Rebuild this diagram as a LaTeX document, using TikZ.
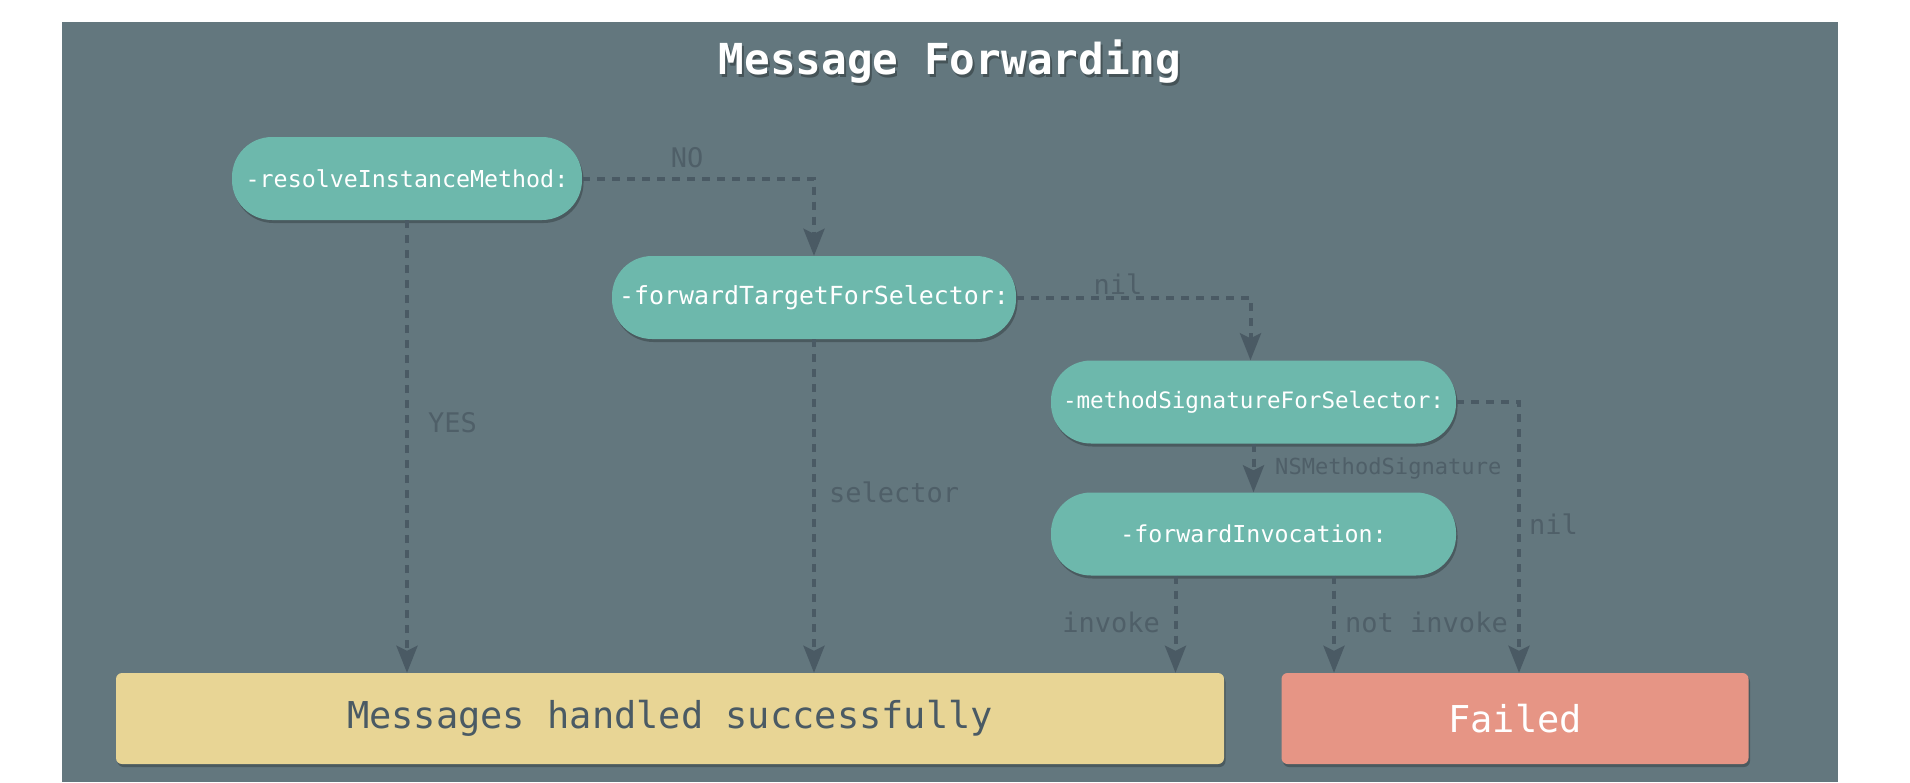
\documentclass[tikz,border=0pt]{standalone}
\usepackage{fontspec}
\setmonofont{DejaVu Sans Mono}
\usetikzlibrary{arrows.meta,shadows}
\definecolor{bg}{HTML}{63777E}
\definecolor{teal}{HTML}{6DB8AC}
\definecolor{okc}{HTML}{E8D595}
\definecolor{failc}{HTML}{E69585}
\definecolor{arrowc}{HTML}{4A5A64}
\definecolor{labc}{HTML}{4F5F68}
\begin{document}
\begin{tikzpicture}[x=1pt,y=-1pt,
  pill/.style={fill=teal, rounded corners=40pt, minimum height=83pt, inner sep=0pt, text=white,
    drop shadow={shadow xshift=1.5pt, shadow yshift=-3pt, opacity=0.35, fill=black!70!bg}},
  endbox/.style={rounded corners=6pt, minimum height=91pt, inner sep=0pt,
    drop shadow={shadow xshift=1.5pt, shadow yshift=-3pt, opacity=0.35, fill=black!70!bg},
    font=\ttfamily\fontsize{37}{44}\selectfont},
  conn/.style={draw=arrowc, line width=4pt, dash pattern=on 8pt off 7pt,
    -{Stealth[length=27pt,width=21pt,inset=5pt]}},
  lab/.style={text=labc, inner sep=0pt, font=\ttfamily\fontsize{27}{32}\selectfont}]
\useasboundingbox (0,0) rectangle (1910,782);
\fill[white] (0,0) rectangle (1910,782);
\fill[bg] (62,22) rectangle (1838,782);
% title
\node[text=black, opacity=0.3, font=\ttfamily\bfseries\fontsize{42.7}{50}\selectfont] (titleshadow) at (952,64.5) {Message Forwarding};
\node[text=white, font=\ttfamily\bfseries\fontsize{42.7}{50}\selectfont] (title) at (950,62) {Message Forwarding};
% nodes
\node[pill, minimum width=350pt, font=\ttfamily\fontsize{23.3}{28}\selectfont] (r) at (407,178.5) {-resolveInstanceMethod:};
\node[pill, minimum width=404pt, font=\ttfamily\fontsize{24.9}{30}\selectfont] (t) at (814,297.5) {-forwardTargetForSelector:};
\node[pill, minimum width=405pt, font=\ttfamily\fontsize{22.6}{27}\selectfont] (m) at (1253.5,402) {-methodSignatureForSelector:};
\node[pill, minimum width=405pt, font=\ttfamily\fontsize{23.3}{28}\selectfont] (i) at (1253.5,534) {-forwardInvocation:};
\node[endbox, fill=okc, text=arrowc, minimum width=1108pt] (s) at (670,718.5) {Messages handled successfully};
\node[endbox, fill=failc, text=white, minimum width=467pt] (f) at (1515,718.5) {Failed};
% connectors
\draw[conn] (r.east) -| (t.north);
\draw[conn] (r.south) -- (r.south |- s.north);
\draw[conn] (t.south) -- (t.south |- s.north);
\draw[conn] (t.east) -| ([xshift=-3pt]m.north);
\draw[conn] (m.south) -- (i.north);
\draw[conn] (m.east) -| ([xshift=4pt]f.north);
\draw[conn] ([xshift=-78pt]i.south) -- ([xshift=-78pt]i.south |- s.north);
\draw[conn] ([xshift=80.5pt]i.south) -- ([xshift=80.5pt]i.south |- f.north);
% labels
\node[lab] (lno) at (687,158) {NO};
\node[lab, anchor=west] (lyes) at (428,423) {YES};
\node[lab, anchor=west] (lsel) at (829,492) {selector};
\node[lab] (lnil) at (1118,284) {nil};
\node[lab, anchor=west, font=\ttfamily\fontsize{22.1}{26}\selectfont] (lsig) at (1275,468) {NSMethodSignature};
\node[lab, anchor=west] (lnil2) at (1529,524) {nil};
\node[lab, anchor=east] (linv) at (1160,622) {invoke};
\node[lab, anchor=west] (lninv) at (1345,622) {not invoke};
\end{tikzpicture}
\end{document}
